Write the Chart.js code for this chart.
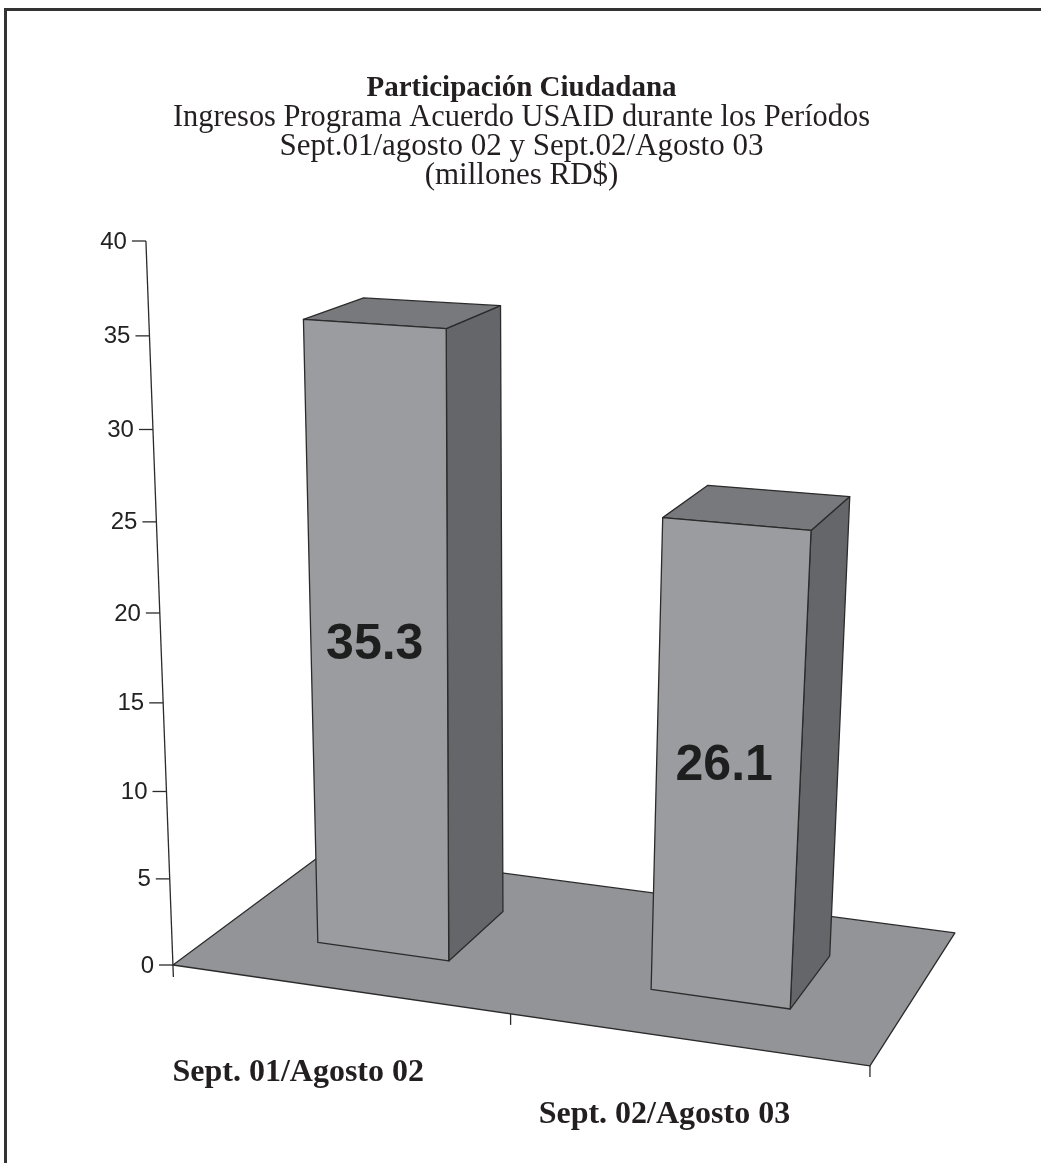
<!DOCTYPE html>
<html>
<head>
<meta charset="utf-8">
<script src="https://cdn.jsdelivr.net/npm/chart.js@4.4.1/dist/chart.umd.min.js"></script>
<style>
  html, body { margin: 0; padding: 0; background: #fff; overflow: hidden; }
  #wrap { position: relative; width: 1041px; height: 1163px; }
  #frame { position: absolute; left: 4px; top: 8px; width: 1100px; height: 1200px;
           border-left: 3px solid #333; border-top: 3px solid #333; pointer-events: none; }
  canvas { position: absolute; left: 0; top: 0; }
</style>
</head>
<body>
<div id="wrap">
  <canvas id="chart" width="1041" height="1163"></canvas>
  <div id="frame"></div>
</div>
<script>
const categories = ['Sept. 01/Agosto 02', 'Sept. 02/Agosto 03'];
const ingresos = [35.3, 26.1];
const yTickValues = [0, 5, 10, 15, 20, 25, 30, 35, 40];
const titleText = 'Participación Ciudadana';
const subtitleLines = [
  'Ingresos Programa Acuerdo USAID durante los Períodos',
  'Sept.01/agosto 02 y Sept.02/Agosto 03',
  '(millones RD$)'
];

const SERIF = '"Liberation Serif", "DejaVu Serif", serif';
const SANS = '"Liberation Sans", Arial, sans-serif';

// 3D look: bar depth as fractions of the floor depth
const BAR_FRONT = 0.29, BAR_BACK = 0.70;

// maps (fraction across x scale, fraction up y scale, depth fraction) to canvas pixels
function makeProjector(area) {
  const W = area.right - area.left;
  const H = area.bottom - area.top;
  return (fx, fy, fz) => {
    const w = 1 - 0.06054 * fx + 0.11985 * fz;
    const x = area.left + W * (0.9394 * fx + 0.2490 * fz) / w;
    const y = area.bottom + W * (0.1361 * fx - 0.1848 * fz) / w;
    const h = H * (0.9448 * fy + 0.0552 * fy * fy) * (1 + 0.0736 * fx - 0.1022 * fz);
    const lean = -0.0374 + 0.0953 * fx;
    return [x + h * lean, y - h];
  };
}

function poly(ctx, pts, fill) {
  ctx.beginPath();
  pts.forEach((p, i) => i ? ctx.lineTo(p[0], p[1]) : ctx.moveTo(p[0], p[1]));
  ctx.closePath();
  ctx.fillStyle = fill;
  ctx.fill();
  ctx.stroke();
}

const bar3d = {
  id: 'bar3d',
  afterDatasetsDraw(chart) {
    const ctx = chart.ctx;
    const area = chart.chartArea;
    const W = area.right - area.left;
    const H = area.bottom - area.top;
    const yScale = chart.scales.y;
    const P = makeProjector(area);

    ctx.save();
    ctx.strokeStyle = '#2b2b2b';
    ctx.lineWidth = 1.3;
    ctx.lineJoin = 'round';

    // floor
    poly(ctx, [P(0, 0, 0), P(1, 0, 0), P(1, 0, 1), P(0, 0, 1)], '#929497');

    // category boundary ticks on the front edge
    const n = chart.data.labels.length;
    for (let i = 1; i <= n; i++) {
      const p = P(i / n, 0, 0);
      ctx.beginPath();
      ctx.moveTo(p[0], p[1]);
      ctx.lineTo(p[0], p[1] + 11);
      ctx.stroke();
    }

    // value axis
    const ticks = (yScale.ticks && yScale.ticks.length) ? yScale.ticks.map(t => t.value) : yTickValues;
    const fyOf = v => (area.bottom - yScale.getPixelForValue(v)) / H;
    const a0 = P(0, 0, 0), a1 = P(0, fyOf(ticks[ticks.length - 1]), 0);
    ctx.beginPath();
    ctx.moveTo(a0[0] + 0.4, a0[1] + 12);
    ctx.lineTo(a1[0], a1[1]);
    ctx.stroke();
    ctx.font = '24px ' + SANS;
    ctx.fillStyle = '#222';
    ctx.textAlign = 'right';
    ctx.textBaseline = 'middle';
    ticks.forEach(v => {
      const p = P(0, fyOf(v), 0);
      ctx.beginPath();
      ctx.moveTo(p[0] - 14, p[1]);
      ctx.lineTo(p[0], p[1]);
      ctx.stroke();
      ctx.fillText(String(v), p[0] - 19, p[1] + 1);
    });

    // bars
    const meta = chart.getDatasetMeta(0);
    meta.data.forEach((el, i) => {
      const cx = (el.x - area.left) / W;
      const hw = el.width / 2 / W;
      const xl = cx - hw, xr = cx + hw;
      const fy = (area.bottom - el.y) / H;
      const z0 = BAR_FRONT, z1 = BAR_BACK;
      poly(ctx, [P(xr, 0, z0), P(xr, 0, z1), P(xr, fy, z1), P(xr, fy, z0)], '#646669');
      poly(ctx, [P(xl, fy, z0), P(xr, fy, z0), P(xr, fy, z1), P(xl, fy, z1)], '#78797c');
      poly(ctx, [P(xl, 0, z0), P(xr, 0, z0), P(xr, fy, z0), P(xl, fy, z0)], '#9a9c9f');

      const v = chart.data.datasets[0].data[i];
      const lp = P(cx, fy / 2, z0);
      ctx.font = 'bold 50px ' + SANS;
      ctx.fillStyle = '#1e1e1e';
      ctx.textAlign = 'center';
      ctx.textBaseline = 'middle';
      ctx.fillText(v.toFixed(1), lp[0] - 4, lp[1]);

      // category label under the floor
      const cp = P(cx, 0, 0);
      ctx.font = 'bold 32px ' + SERIF;
      ctx.fillStyle = '#231f20';
      ctx.fillText(chart.data.labels[i], cp[0] - 50 + 36 * cx, cp[1] + 84 - 18 * (cx - 0.25));
    });

    ctx.restore();
  }
};

new Chart(document.getElementById('chart'), {
  type: 'bar',
  data: {
    labels: categories,
    datasets: [{
      label: 'Ingresos',
      data: ingresos,
      backgroundColor: 'rgba(0,0,0,0)',
      borderWidth: 0,
      barPercentage: 0.5,
      categoryPercentage: 0.8
    }]
  },
  options: {
    responsive: false,
    animation: false,
    layout: { padding: { top: 74.5, left: 173, right: 171, bottom: 198 } },
    scales: {
      x: { display: false, offset: true },
      y: {
        display: false, min: 0, max: 40,
        afterBuildTicks: s => { s.ticks = yTickValues.map(v => ({ value: v })); }
      }
    },
    plugins: {
      legend: { display: false },
      tooltip: { enabled: false },
      title: {
        display: true,
        text: titleText,
        color: '#231f20',
        font: { family: SERIF, size: 29, weight: 'bold', lineHeight: 29 / 29 },
        padding: { top: 0, bottom: 0 }
      },
      subtitle: {
        display: true,
        text: subtitleLines,
        color: '#231f20',
        font: { family: SERIF, size: 31, weight: 'normal', lineHeight: 29 / 31 },
        padding: { top: 0, bottom: 50.5 }
      }
    }
  },
  plugins: [bar3d]
});
</script>
</body>
</html>
